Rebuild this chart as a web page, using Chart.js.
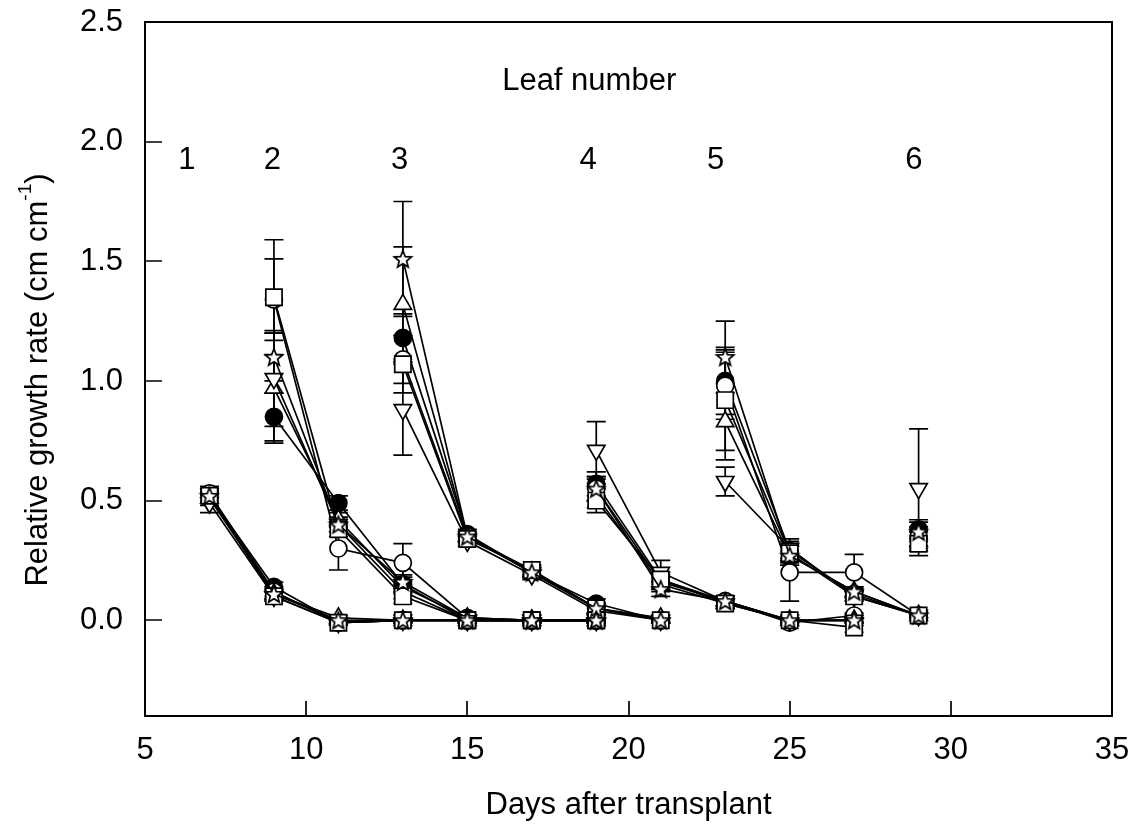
<!DOCTYPE html>
<html>
<head>
<meta charset="utf-8">
<title>Relative growth rate of leaves</title>
<script src="https://cdn.jsdelivr.net/npm/chart.js@4.4.1/dist/chart.umd.min.js"></script>
<style>
  body { margin: 0; background: #fff; }
  canvas { display: block; }
</style>
</head>
<body>
<canvas id="rgrChart" width="1134" height="835"></canvas>
<script>
// Sampling days for each leaf (leaf 1 .. leaf 6)
const leafDays = [
  [7, 9, 11, 13, 15, 17, 19],
  [9, 11, 13, 15, 17, 19],
  [13, 15, 17, 19, 21],
  [19, 21, 23, 25, 27],
  [23, 25, 27, 29],
  [29]
];

// Relative growth rate per treatment, one row per leaf
const rgrT1 = [[0.52, 0.14, -0.01, 0, 0, 0, 0], [0.85, 0.49, 0.15, 0.0, 0, 0], [1.18, 0.36, 0.20, 0.07, 0.0], [0.57, 0.17, 0.08, 0.0, 0.0], [1.00, 0.29, 0.11, 0.02], [0.38]];
const rgrT2 = [[0.53, 0.12, -0.01, 0, 0, 0, 0], [1.34, 0.30, 0.24, 0.01, 0, 0], [1.09, 0.35, 0.21, 0.05, 0.0], [0.55, 0.16, 0.08, -0.01, 0.02], [0.98, 0.20, 0.20, 0.02], [0.35]];
const rgrT3 = [[0.51, 0.11, 0.01, 0, 0, 0, 0], [0.97, 0.42, 0.14, 0.01, 0, 0], [1.32, 0.35, 0.20, 0.05, 0.01], [0.52, 0.15, 0.07, 0.0, 0.0], [0.83, 0.27, 0.12, 0.02], [0.33]];
const rgrT4 = [[0.49, 0.10, -0.01, 0, 0, 0, 0], [1.01, 0.40, 0.12, 0.0, 0, 0], [0.88, 0.33, 0.19, 0.04, 0.0], [0.71, 0.20, 0.08, 0.0, 0.0], [0.58, 0.30, 0.10, 0.02], [0.55]];
const rgrT5 = [[0.52, 0.10, -0.01, 0, 0, 0, 0], [1.35, 0.38, 0.10, 0.0, 0, 0], [1.07, 0.34, 0.21, 0.05, 0.0], [0.50, 0.17, 0.07, 0.0, -0.03], [0.92, 0.28, 0.10, 0.02], [0.32]];
const rgrT6 = [[0.52, 0.11, 0.0, 0, 0, 0, 0], [1.10, 0.40, 0.16, 0.01, 0, 0], [1.51, 0.35, 0.20, 0.05, 0.0], [0.55, 0.13, 0.08, 0.0, 0.0], [1.10, 0.27, 0.12, 0.02], [0.37]];

// Standard errors, same layout as above
const seT1 = [[0.03, 0.02, 0.01, 0.01, 0.01, 0.01, 0.01], [0.10, 0.03, 0.03, 0.01, 0.01, 0.01], [0.10, 0.02, 0.02, 0.02, 0.01], [0.05, 0.03, 0.02, 0.01, 0.01], [0.14, 0.04, 0.02, 0.01], [0.04]];
const seT2 = [[0.03, 0.02, 0.01, 0.01, 0.01, 0.01, 0.01], [0.17, 0.09, 0.08, 0.01, 0.01, 0.01], [0.10, 0.02, 0.02, 0.02, 0.01], [0.05, 0.03, 0.02, 0.01, 0.01], [0.14, 0.12, 0.075, 0.01], [0.04]];
const seT3 = [[0.03, 0.02, 0.01, 0.01, 0.01, 0.01, 0.01], [0.23, 0.03, 0.03, 0.01, 0.01, 0.01], [0.24, 0.02, 0.02, 0.02, 0.01], [0.05, 0.03, 0.02, 0.01, 0.01], [0.16, 0.04, 0.02, 0.01], [0.04]];
const seT4 = [[0.04, 0.02, 0.01, 0.01, 0.01, 0.01, 0.01], [0.20, 0.03, 0.03, 0.01, 0.01, 0.01], [0.19, 0.02, 0.02, 0.02, 0.01], [0.12, 0.05, 0.02, 0.01, 0.01], [0.06, 0.04, 0.02, 0.01], [0.25]];
const seT5 = [[0.03, 0.02, 0.01, 0.01, 0.01, 0.01, 0.01], [0.24, 0.03, 0.03, 0.01, 0.01, 0.01], [0.12, 0.02, 0.02, 0.02, 0.01], [0.05, 0.03, 0.02, 0.01, 0.02], [0.21, 0.04, 0.02, 0.01], [0.05]];
const seT6 = [[0.03, 0.02, 0.01, 0.01, 0.01, 0.01, 0.01], [0.10, 0.03, 0.03, 0.01, 0.01, 0.01], [0.24, 0.02, 0.02, 0.02, 0.01], [0.05, 0.03, 0.02, 0.01, 0.01], [0.15, 0.04, 0.02, 0.01], [0.04]];

// Leaf number labels and where they sit (day, rgr)
const leafNumbers = ['1', '2', '3', '4', '5', '6'];
const leafLabelDays = [6.3, 8.95, 12.9, 18.75, 22.7, 28.85];

const FONT = '"Liberation Sans", Arial, Helvetica, sans-serif';
const FONT_SIZE = 31;
const LINE_W = 1.7;

// open five-pointed star as a point style
function makeStar() {
  let c = document.createElement('canvas');
  c.width = 22; c.height = 22;
  let g = c.getContext('2d');
  let R = 9, r = 3.9;
  g.beginPath();
  for (let i = 0; i < 10; i++) {
    let rad = i % 2 === 0 ? R : r;
    let a = -Math.PI / 2 + i * Math.PI / 5;
    let px = 11 + rad * Math.cos(a), py = 11.8 + rad * Math.sin(a);
    if (i === 0) g.moveTo(px, py); else g.lineTo(px, py);
  }
  g.closePath();
  g.fillStyle = '#fff';
  g.fill();
  g.lineWidth = LINE_W;
  g.strokeStyle = '#000';
  g.stroke();
  return c;
}

const treatments = [
  { name: 'T1', rgr: rgrT1, se: seT1, style: 'circle', radius: 8.5, fill: '#000', rot: 0 },
  { name: 'T2', rgr: rgrT2, se: seT2, style: 'circle', radius: 8.5, fill: '#fff', rot: 0 },
  { name: 'T3', rgr: rgrT3, se: seT3, style: 'triangle', radius: 10, fill: '#fff', rot: 0 },
  { name: 'T4', rgr: rgrT4, se: seT4, style: 'triangle', radius: 10, fill: '#fff', rot: 180 },
  { name: 'T5', rgr: rgrT5, se: seT5, style: 'rect', radius: 11.5, fill: '#fff', rot: 0 },
  { name: 'T6', rgr: rgrT6, se: seT6, style: makeStar(), radius: 9, fill: '#fff', rot: 0 }
];

// one line per treatment and leaf
let datasets = [];
treatments.forEach((t, ti) => {
  leafDays.forEach((days, li) => {
    datasets.push({
      label: t.name + ' leaf ' + (li + 1),
      data: days.map((d, k) => ({ x: d, y: t.rgr[li][k], e: t.se[li][k] })),
      borderColor: '#000',
      borderWidth: LINE_W,
      tension: 0,
      pointStyle: t.style,
      pointRadius: t.radius,
      pointRotation: t.rot,
      pointBackgroundColor: t.fill,
      pointBorderColor: '#000',
      pointBorderWidth: LINE_W,
      order: treatments.length - ti
    });
  });
});

// vertical error bars with caps, under the markers
const errorBars = {
  id: 'errorBars',
  beforeDatasetsDraw(chart) {
    let ctx = chart.ctx;
    let yScale = chart.scales.y;
    ctx.save();
    ctx.strokeStyle = '#000';
    ctx.lineWidth = LINE_W;
    chart.data.datasets.forEach((ds, i) => {
      let meta = chart.getDatasetMeta(i);
      ds.data.forEach((p, j) => {
        if (!p.e) return;
        let px = meta.data[j].x;
        let top = yScale.getPixelForValue(p.y + p.e);
        let bot = yScale.getPixelForValue(p.y - p.e);
        ctx.beginPath();
        ctx.moveTo(px, top); ctx.lineTo(px, bot);
        ctx.moveTo(px - 9.5, top); ctx.lineTo(px + 9.5, top);
        ctx.moveTo(px - 9.5, bot); ctx.lineTo(px + 9.5, bot);
        ctx.stroke();
      });
    });
    ctx.restore();
  }
};

// frame, inward ticks, axis titles and leaf labels
const decorations = {
  id: 'decorations',
  afterDraw(chart) {
    let ctx = chart.ctx;
    let a = chart.chartArea;
    let xs = chart.scales.x, ys = chart.scales.y;
    ctx.save();
    ctx.strokeStyle = '#000';
    ctx.lineWidth = 2;
    ctx.strokeRect(a.left, a.top, a.right - a.left, a.bottom - a.top);

    ctx.beginPath();
    xs.ticks.forEach(t => {
      let px = Math.round(xs.getPixelForValue(t.value));
      ctx.moveTo(px, a.bottom); ctx.lineTo(px, a.bottom - 15);
    });
    ys.ticks.forEach(t => {
      let py = Math.round(ys.getPixelForValue(t.value));
      ctx.moveTo(a.left, py); ctx.lineTo(a.left + 17, py);
    });
    ctx.lineWidth = LINE_W;
    ctx.stroke();

    ctx.fillStyle = '#000';
    ctx.font = FONT_SIZE + 'px ' + FONT;
    ctx.textAlign = 'center';
    ctx.textBaseline = 'middle';
    ctx.fillText('Days after transplant', (a.left + a.right) / 2, 805);

    // leaf labels
    ctx.fillText('Leaf number', xs.getPixelForValue(18.78), ys.getPixelForValue(2.25));
    leafNumbers.forEach((n, i) => {
      ctx.fillText(n, xs.getPixelForValue(leafLabelDays[i]), ys.getPixelForValue(1.92));
    });

    // y title with superscript unit
    let main = 'Relative growth rate (cm cm';
    let sup = '-1';
    let tail = ')';
    ctx.font = FONT_SIZE + 'px ' + FONT;
    let wMain = ctx.measureText(main).width;
    let wTail = ctx.measureText(tail).width;
    ctx.font = '19px ' + FONT;
    let wSup = ctx.measureText(sup).width;
    let total = wMain + wSup + wTail;
    ctx.translate(38, 380);
    ctx.rotate(-Math.PI / 2);
    ctx.textAlign = 'left';
    ctx.font = FONT_SIZE + 'px ' + FONT;
    ctx.fillText(main, -total / 2, 0);
    ctx.font = '19px ' + FONT;
    ctx.fillText(sup, -total / 2 + wMain, -12);
    ctx.font = FONT_SIZE + 'px ' + FONT;
    ctx.fillText(tail, -total / 2 + wMain + wSup, 0);
    ctx.restore();
  }
};

new Chart(document.getElementById('rgrChart'), {
  type: 'line',
  data: { datasets: datasets },
  options: {
    responsive: false,
    animation: false,
    layout: { padding: { top: 22, right: 22, left: 0, bottom: 0 } },
    plugins: {
      legend: { display: false },
      tooltip: { enabled: false }
    },
    scales: {
      x: {
        type: 'linear',
        min: 5,
        max: 35,
        grid: { display: false, drawTicks: false },
        border: { display: false },
        ticks: {
          stepSize: 5,
          padding: 16,
          color: '#000',
          font: { family: FONT, size: FONT_SIZE }
        },
        afterFit(scale) {
          scale.height = 119;
          scale.paddingLeft = 0;
          scale.paddingRight = 0;
        }
      },
      y: {
        type: 'linear',
        min: -0.4,
        max: 2.5,
        grid: { display: false, drawTicks: false },
        border: { display: false },
        ticks: {
          stepSize: 0.5,
          padding: 22,
          color: '#000',
          font: { family: FONT, size: FONT_SIZE },
          callback: v => v.toFixed(1)
        },
        afterBuildTicks(scale) {
          scale.ticks = scale.ticks.filter(t => t.value > -0.01);
        },
        afterFit(scale) {
          scale.width = 145;
          scale.paddingTop = 0;
          scale.paddingBottom = 0;
        }
      }
    }
  },
  plugins: [errorBars, decorations]
});
</script>
</body>
</html>
